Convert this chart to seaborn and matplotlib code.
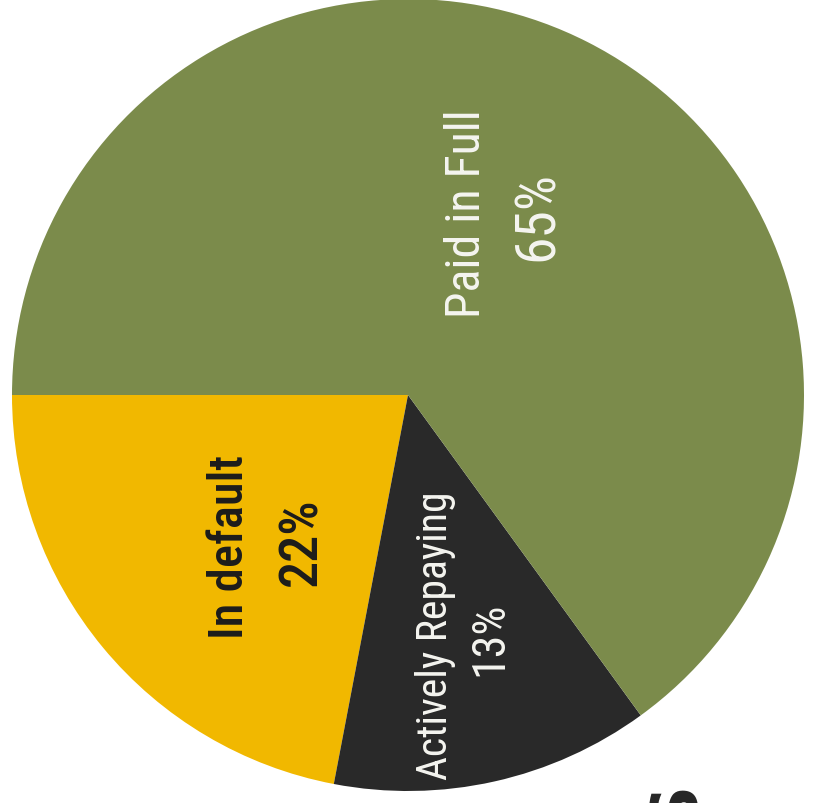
import matplotlib
matplotlib.use("Agg")
import matplotlib.pyplot as plt
import seaborn as sns

# Loan outcome shares
categories = ["In default", "Actively Repaying", "Paid in Full"]
shares = [22, 13, 65]
slice_colors = ["#f1b800", "#292929", "#7b8b4b"]

# label styling per slice
label_colors = ["#1c1c1c", "#f5f5f0", "#f5f5f0"]
label_weights = [500, "normal", "normal"]
name_sizes = [35, 30, 34.5]
pct_sizes = [39, 33, 40]

sns.set_theme(style="white")
label_family = ["Roboto Condensed", "DejaVu Sans"]

W, H = 817, 804
fig = plt.figure(figsize=(W / 100, H / 100), dpi=100)
ax = fig.add_axes([0, 0, 1, 1])

cx, cy, r = 408, H - 396, 396
wedges, _ = ax.pie(
    shares,
    colors=slice_colors,
    startangle=180,
    counterclock=True,
    center=(cx, cy),
    radius=r,
    wedgeprops=dict(linewidth=0),
)

ax.set_xlim(0, W)
ax.set_ylim(0, H)
ax.set_aspect("equal")
ax.axis("off")

# baselines of the rotated label lines (x) and their centres along y, in pixels from top-left
name_anchor = [(243, 547), (447, 636), (480, 214)]
pct_anchor = [(316, 542), (502, 639), (553, 216)]

for cat, val, col, wt, fs_n, fs_p, (nx, ny), (qx, qy) in zip(
        categories, shares, label_colors, label_weights, name_sizes, pct_sizes,
        name_anchor, pct_anchor):
    common = dict(rotation=90, rotation_mode="anchor", ha="center", va="baseline",
                  color=col, fontweight=wt, family=label_family, fontstretch="condensed")
    ax.text(nx, H - ny, cat, fontsize=fs_n, **common)
    ax.text(qx, H - qy, f"{val}%", fontsize=fs_p, **common)

# heading letter running off the lower edge
ax.text(675, H - 804, "S", rotation=90, ha="center", va="center",
        color="#262626", fontsize=46, fontweight="heavy", family="DejaVu Sans")

fig.savefig("out.png", dpi=100, facecolor="white")
